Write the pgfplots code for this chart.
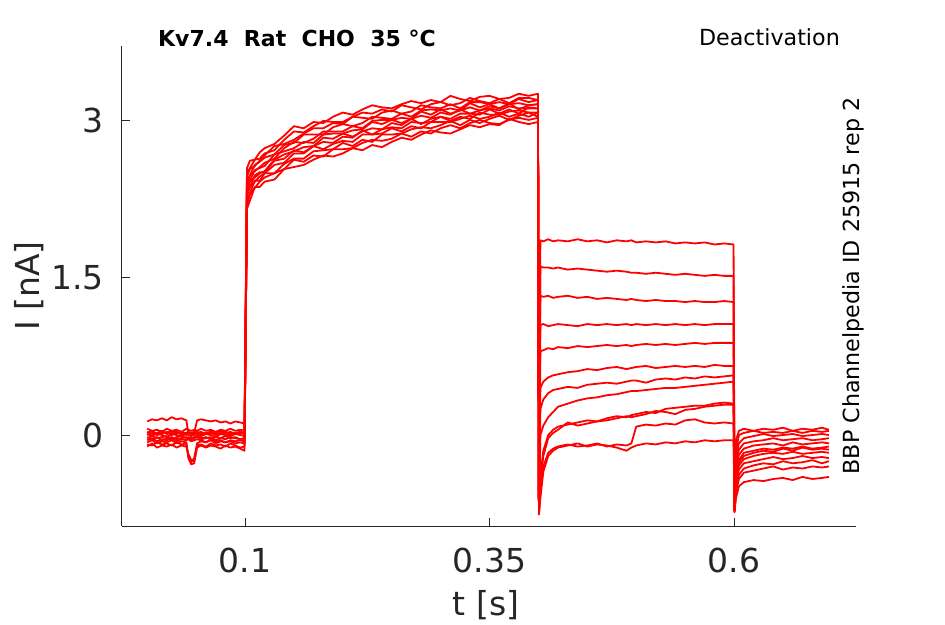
\documentclass[border=0pt]{standalone}
\usepackage{pgfplots}
\pgfplotsset{compat=1.18}
\usepackage{pgfplotstable}
\usepackage{fontspec}
\setmainfont{DejaVu Sans}
\definecolor{axgray}{HTML}{262626}
\pgfplotstableread{
t y1 y2 y3 y4 y5 y6 y7 y8 y9 y10 y11 y12
0 0.13 0.06 0.02 0.01 -0.03 -0.05 0.03 -0.07 -0.09 -0.11 -0.02 0.00
0.005 0.15 0.04 0.04 -0.01 -0.01 -0.03 0.01 -0.05 -0.10 -0.08 -0.04 0.02
0.01 0.14 0.05 0.01 0.02 -0.03 -0.06 0.02 -0.08 -0.07 -0.12 -0.02 0.00
0.015 0.16 0.03 0.03 0.00 -0.02 -0.04 0.04 -0.06 -0.09 -0.10 -0.05 0.01
0.02 0.14 0.06 0.02 -0.02 -0.01 -0.05 0.01 -0.07 -0.08 -0.11 -0.03 0.03
0.025 0.17 0.04 0.04 0.01 -0.04 -0.03 0.02 -0.05 -0.10 -0.09 -0.02 0.00
0.03 0.15 0.05 0.02 0.00 -0.02 -0.06 0.03 -0.08 -0.07 -0.12 -0.04 0.02
0.035 0.16 0.03 0.03 -0.01 -0.01 -0.04 0.01 -0.06 -0.09 -0.10 -0.03 0.01
0.04 0.14 0.06 0.01 0.02 -0.03 -0.05 0.02 -0.07 -0.08 -0.11 -0.02 0.00
0.042 0.02 0.05 0.03 0.00 -0.02 -0.04 0.03 -0.20 -0.22 -0.18 -0.03 0.02
0.045 0.01 0.04 0.02 -0.01 -0.03 -0.06 0.01 -0.26 -0.28 -0.24 -0.05 0.01
0.048 0.02 0.05 0.03 0.01 -0.02 -0.05 0.02 -0.22 -0.27 -0.25 -0.03 0.00
0.051 0.14 0.04 0.02 0.00 -0.01 -0.04 0.03 -0.08 -0.10 -0.12 -0.02 0.02
0.055 0.15 0.06 0.03 -0.01 -0.03 -0.05 0.01 -0.06 -0.09 -0.10 -0.04 0.00
0.06 0.14 0.04 0.01 0.01 -0.02 -0.07 0.02 -0.07 -0.11 -0.12 -0.03 0.01
0.065 0.13 0.05 0.03 0.00 -0.04 -0.04 0.03 -0.05 -0.08 -0.10 -0.02 0.02
0.07 0.14 0.03 0.02 -0.02 -0.02 -0.06 0.01 -0.08 -0.10 -0.11 -0.05 0.00
0.075 0.12 0.05 0.04 0.01 -0.03 -0.05 0.02 -0.06 -0.09 -0.13 -0.03 0.01
0.08 0.13 0.04 0.02 0.00 -0.01 -0.07 0.03 -0.07 -0.11 -0.10 -0.04 0.02
0.085 0.11 0.06 0.03 -0.01 -0.03 -0.05 0.01 -0.06 -0.08 -0.12 -0.02 0.00
0.09 0.13 0.04 0.01 0.01 -0.02 -0.06 0.02 -0.08 -0.10 -0.11 -0.03 0.01
0.095 0.12 0.05 0.03 0.00 -0.04 -0.05 0.03 -0.07 -0.12 -0.13 -0.04 0.02
0.0995 0.11 0.04 0.02 -0.01 -0.03 -0.06 0.01 -0.08 -0.11 -0.15 -0.03 0.01
0.102 2.55 2.50 2.47 2.43 2.40 2.37 2.34 2.31 2.28 2.24 2.20 2.16
0.105 2.62 2.55 2.54 2.48 2.48 2.43 2.42 2.37 2.37 2.31 2.30 2.24
0.11 2.63 2.63 2.57 2.58 2.52 2.53 2.46 2.48 2.42 2.43 2.36 2.37
0.115 2.70 2.64 2.62 2.61 2.56 2.55 2.50 2.51 2.47 2.43 2.42 2.37
0.12 2.74 2.69 2.67 2.65 2.60 2.57 2.52 2.51 2.50 2.50 2.46 2.42
0.13 2.78 2.72 2.76 2.68 2.64 2.68 2.63 2.62 2.58 2.50 2.50 2.44
0.14 2.86 2.82 2.78 2.77 2.74 2.71 2.68 2.64 2.60 2.59 2.54 2.54
0.15 2.95 2.90 2.82 2.79 2.80 2.74 2.71 2.72 2.69 2.64 2.63 2.56
0.16 2.93 2.89 2.88 2.87 2.79 2.80 2.75 2.70 2.69 2.64 2.61 2.58
0.17 2.99 2.95 2.93 2.87 2.83 2.79 2.76 2.76 2.76 2.71 2.67 2.63
0.18 2.98 3.00 2.93 2.87 2.90 2.87 2.84 2.80 2.73 2.72 2.66 2.67
0.19 3.04 2.99 2.98 2.94 2.90 2.88 2.83 2.79 2.78 2.73 2.73 2.66
0.20 3.08 2.99 2.97 2.97 2.90 2.88 2.88 2.85 2.81 2.79 2.73 2.69
0.21 3.06 3.04 3.04 2.95 2.95 2.91 2.85 2.84 2.80 2.76 2.74 2.74
0.22 3.11 3.08 3.03 2.98 2.93 2.92 2.90 2.91 2.87 2.82 2.79 2.72
0.23 3.15 3.07 3.02 3.04 3.00 2.99 2.93 2.87 2.87 2.80 2.82 2.77
0.24 3.13 3.11 3.08 3.03 3.01 2.97 2.92 2.92 2.88 2.87 2.81 2.75
0.25 3.12 3.09 3.10 3.02 3.01 3.01 2.98 2.94 2.93 2.87 2.83 2.80
0.26 3.16 3.15 3.07 3.07 3.03 2.98 2.96 2.93 2.90 2.88 2.88 2.84
0.27 3.19 3.13 3.09 3.04 3.02 3.02 3.02 2.99 2.95 2.92 2.85 2.82
0.28 3.17 3.11 3.15 3.10 3.09 3.05 2.97 2.98 2.93 2.94 2.90 2.87
0.29 3.20 3.16 3.13 3.11 3.06 3.03 3.02 2.99 2.99 2.93 2.88 2.91
0.30 3.18 3.18 3.12 3.10 3.11 3.08 3.04 3.04 2.99 2.96 2.93 2.89
0.31 3.24 3.15 3.16 3.12 3.07 3.06 3.02 3.00 2.99 3.00 2.96 2.88
0.32 3.21 3.17 3.12 3.10 3.10 3.11 3.07 3.04 3.02 2.96 2.93 2.92
0.33 3.19 3.22 3.18 3.17 3.13 3.07 3.07 3.02 3.05 3.01 2.98 2.96
0.34 3.23 3.19 3.18 3.13 3.10 3.10 3.06 3.08 3.02 2.98 3.01 2.94
0.35 3.24 3.17 3.16 3.16 3.14 3.12 3.11 3.06 3.04 3.02 2.98 2.97
0.36 3.21 3.21 3.18 3.12 3.12 3.10 3.07 3.06 3.08 3.05 2.97 2.96
0.37 3.22 3.17 3.16 3.16 3.17 3.14 3.11 3.09 3.04 3.01 3.01 3.02
0.38 3.26 3.22 3.21 3.17 3.11 3.12 3.07 3.10 3.07 3.05 3.03 2.99
0.39 3.24 3.22 3.18 3.15 3.15 3.12 3.13 3.08 3.04 3.08 3.01 2.97
0.3995 3.26 3.20 3.20 3.16 3.16 3.12 3.12 3.08 3.08 3.04 3.03 2.99
0.4005 -0.70 -0.72 -0.71 -0.73 -0.72 -0.74 -0.72 -0.73 -0.75 -0.74 -0.76 -0.75
0.402 1.86 1.61 1.33 1.05 0.80 0.45 0.25 0.00 -0.40 -0.45 -0.55 -0.60
0.405 1.85 1.60 1.32 1.06 0.81 0.51 0.34 0.09 -0.15 -0.20 -0.30 -0.35
0.41 1.87 1.60 1.33 1.04 0.83 0.55 0.40 0.17 0.00 -0.03 -0.17 -0.20
0.415 1.85 1.59 1.31 1.05 0.82 0.57 0.43 0.22 0.05 0.02 -0.13 -0.15
0.42 1.86 1.60 1.32 1.06 0.84 0.58 0.44 0.27 0.08 0.05 -0.11 -0.12
0.43 1.85 1.58 1.33 1.05 0.83 0.60 0.46 0.30 0.10 0.12 -0.09 -0.10
0.44 1.87 1.59 1.31 1.04 0.85 0.61 0.45 0.33 0.12 0.09 -0.11 -0.08
0.45 1.85 1.58 1.32 1.06 0.84 0.63 0.48 0.35 0.14 0.11 -0.10 -0.11
0.46 1.86 1.57 1.30 1.05 0.85 0.62 0.49 0.36 0.13 0.13 -0.08 -0.09
0.47 1.84 1.56 1.31 1.06 0.86 0.64 0.50 0.38 0.16 0.14 -0.11 -0.10
0.48 1.86 1.57 1.30 1.05 0.85 0.65 0.49 0.39 0.18 0.16 -0.09 -0.12
0.49 1.85 1.56 1.29 1.06 0.86 0.63 0.51 0.41 0.17 0.18 -0.10 -0.15
0.495 1.86 1.55 1.30 1.05 0.85 0.64 0.52 0.42 0.19 0.17 -0.08 -0.12
0.50 1.84 1.55 1.29 1.06 0.86 0.65 0.52 0.42 0.20 0.18 0.08 -0.10
0.51 1.85 1.54 1.28 1.05 0.87 0.66 0.50 0.43 0.22 0.20 0.10 -0.08
0.52 1.84 1.55 1.29 1.06 0.86 0.64 0.53 0.44 0.21 0.23 0.09 -0.09
0.53 1.85 1.54 1.28 1.05 0.87 0.65 0.54 0.45 0.25 0.22 0.11 -0.07
0.54 1.83 1.53 1.28 1.06 0.86 0.66 0.53 0.45 0.26 0.20 0.10 -0.08
0.55 1.84 1.54 1.27 1.05 0.87 0.65 0.55 0.46 0.27 0.24 0.14 -0.06
0.56 1.83 1.53 1.28 1.06 0.88 0.66 0.54 0.47 0.28 0.25 0.15 -0.07
0.57 1.84 1.52 1.27 1.05 0.87 0.65 0.56 0.48 0.28 0.27 0.12 -0.05
0.58 1.82 1.53 1.27 1.06 0.88 0.67 0.55 0.49 0.30 0.28 0.11 -0.06
0.59 1.83 1.52 1.28 1.06 0.88 0.66 0.56 0.50 0.31 0.29 0.12 -0.05
0.5995 1.82 1.52 1.27 1.06 0.88 0.66 0.57 0.51 0.30 0.29 0.11 -0.05
0.6005 -0.68 -0.70 -0.71 -0.72 -0.70 -0.73 -0.71 -0.72 -0.74 -0.72 -0.73 -0.71
0.602 -0.05 -0.15 -0.22 -0.28 -0.33 -0.38 -0.42 -0.46 -0.50 -0.54 -0.60 -0.40
0.605 0.04 0.00 -0.08 -0.14 -0.19 -0.24 -0.29 -0.33 -0.38 -0.42 -0.49 -0.26
0.61 0.06 0.02 -0.03 -0.08 -0.13 -0.17 -0.23 -0.27 -0.32 -0.36 -0.45 -0.20
0.62 0.04 0.04 -0.01 -0.06 -0.10 -0.15 -0.20 -0.25 -0.29 -0.34 -0.43 -0.17
0.63 0.06 0.02 0.01 -0.05 -0.09 -0.13 -0.18 -0.23 -0.27 -0.32 -0.44 -0.15
0.64 0.05 0.03 -0.01 -0.03 -0.08 -0.14 -0.17 -0.21 -0.28 -0.30 -0.42 -0.16
0.65 0.07 0.02 0.00 -0.05 -0.10 -0.12 -0.18 -0.23 -0.25 -0.33 -0.41 -0.13
0.66 0.04 0.04 0.01 -0.04 -0.07 -0.13 -0.16 -0.22 -0.27 -0.31 -0.43 -0.15
0.67 0.06 0.02 -0.01 -0.03 -0.09 -0.11 -0.18 -0.20 -0.26 -0.32 -0.40 -0.12
0.68 0.05 0.04 0.00 -0.05 -0.08 -0.13 -0.17 -0.22 -0.24 -0.30 -0.42 -0.14
0.69 0.07 0.03 0.01 -0.04 -0.07 -0.12 -0.16 -0.21 -0.27 -0.31 -0.41 -0.13
0.697 0.05 0.04 0.00 -0.03 -0.08 -0.11 -0.17 -0.22 -0.25 -0.30 -0.40 -0.14
}\data

\begin{document}
\begin{tikzpicture}[x=1pt,y=1pt]
\path[use as bounding box] (-122,-98) rectangle (823,526);
\begin{axis}[
  at={(0,0)}, anchor=south west,
  scale only axis, width=734pt, height=480pt,
  xmin=-0.0258, xmax=0.7247, ymin=-0.869, ymax=3.716,
  axis lines=left,
  axis line style={-, draw=axgray, line width=1pt},
  tick align=inside, major tick length=8pt,
  tick style={draw=axgray, line width=1pt},
  xtick={0.1,0.35,0.6}, xticklabels={0.1,0.35,0.6},
  ytick={0,1.5,3}, yticklabels={0,1.5,3},
  tick label style={font=\fontsize{33}{40}\selectfont, text=axgray, inner sep=0pt},
  xticklabel style={anchor=north, yshift=-22pt},
  yticklabel style={anchor=east, xshift=-18pt},
  clip=false,
]
\pgfplotsinvokeforeach{1,...,12}{
  \addplot[color=red, line width=1.8pt, line join=round, no markers] table[x=t, y=y#1] {\data};
}
\end{axis}
\node[anchor=base, font=\fontsize{33}{40}\selectfont, text=axgray] at (364,-89) {t [s]};
\node[rotate=90, anchor=base, font=\fontsize{33}{40}\selectfont, text=axgray] at (-82,240) {I [nA]};
\node[anchor=base west, inner sep=0pt, font=\fontsize{22}{26}\selectfont\bfseries] at (36,479) {Kv7.4\hspace{0.7em}Rat\hspace{0.7em}CHO\hspace{0.7em}35 °C};
\node[anchor=base east, inner sep=0pt, font=\fontsize{22.2}{27}\selectfont] at (718,480) {Deactivation};
\node[rotate=90, anchor=base, inner sep=0pt, font=\fontsize{22.2}{27}\selectfont] at (737,240) {BBP Channelpedia ID 25915 rep 2};
\end{tikzpicture}
\end{document}
